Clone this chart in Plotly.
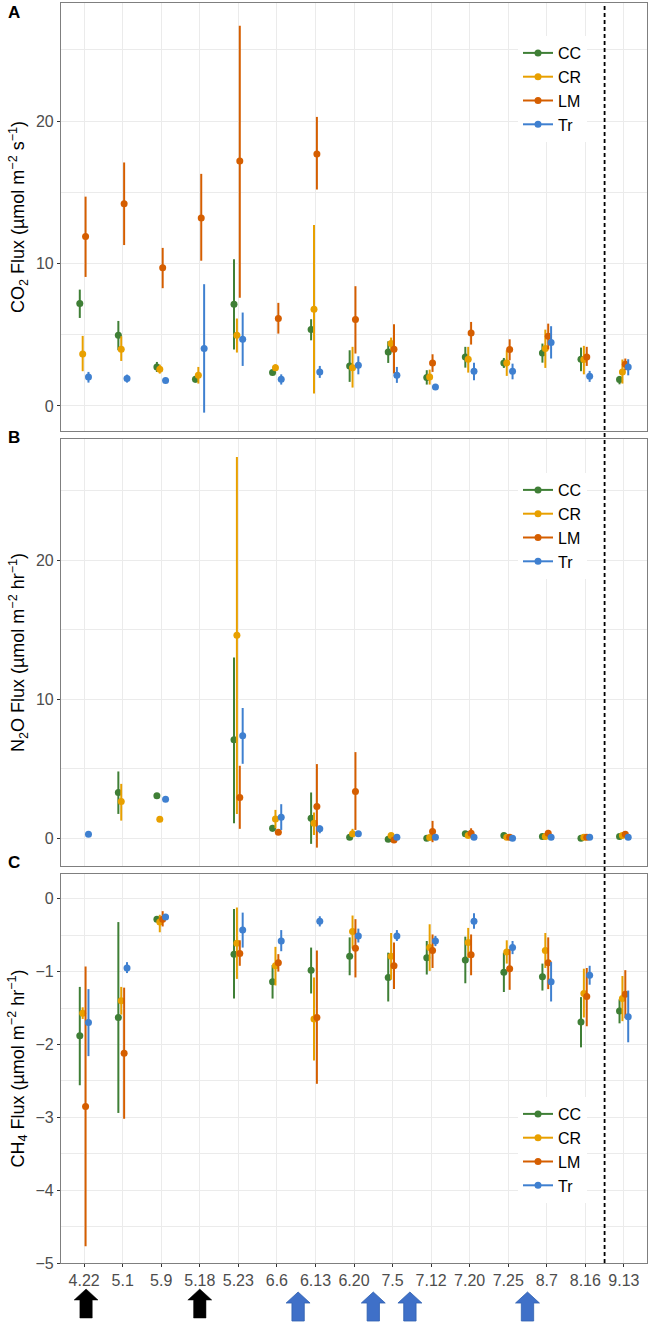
import plotly.graph_objects as go

# ---------------- data ----------------
dates = ["4.22", "5.1", "5.9", "5.18", "5.23", "6.6", "6.13", "6.20",
         "7.5", "7.12", "7.20", "7.25", "8.7", "8.16", "9.13"]
groups = ["CC", "CR", "LM", "Tr"]
N = None

# Panel A: CO2 flux (umol m-2 s-1)
co2_cc = [7.19, 4.96, 2.74, 1.87, 7.14, 2.34, 5.36, 2.81, 3.79, 1.99, 3.44, 3.02, 3.72, 3.28, 1.85]
co2_cc_lo = [6.18, 3.91, 2.39, 1.64, 3.96, 2.22, 4.61, 1.69, 3.02, 1.50, 2.69, 2.67, 3.04, 2.44, 1.52]
co2_cc_hi = [8.17, 5.97, 3.09, 2.10, 10.3, 2.46, 6.09, 3.91, 4.54, 2.51, 4.15, 3.37, 4.38, 4.10, 2.11]
co2_cr = [3.65, 3.98, 2.58, 2.15, 4.96, 2.69, 6.79, 2.69, 4.38, 2.04, 3.28, 3.02, 4.03, 3.26, 2.39]
co2_cr_lo = [2.44, 3.16, 2.27, 1.57, 3.75, 2.46, 0.87, 1.29, 3.91, 1.50, 2.34, 2.11, 2.67, 2.22, 1.57]
co2_cr_hi = [4.92, 4.89, 2.90, 2.74, 6.14, 2.93, 12.7, 4.15, 4.80, 2.55, 4.15, 3.91, 5.36, 4.22, 3.26]
co2_lm = [11.9, 14.2, 9.70, 13.2, 17.2, 6.14, 17.7, 6.07, 3.98, 3.02, 5.13, 3.96, 4.89, 3.44, 2.93]
co2_lm_lo = [9.06, 11.3, 8.27, 10.2, 7.59, 5.08, 15.2, 3.68, 2.27, 2.39, 4.31, 3.21, 3.98, 2.81, 2.51]
co2_lm_hi = [14.7, 17.1, 11.1, 16.3, 26.7, 7.24, 20.3, 8.41, 5.74, 3.63, 5.90, 4.68, 5.78, 4.15, 3.33]
co2_tr = [2.04, 1.92, 1.78, 4.03, 4.68, 1.87, 2.39, 2.86, 2.15, 1.33, 2.44, 2.44, 4.45, 2.08, 2.74]
co2_tr_lo = [1.64, 1.64, 1.70, -0.47, 2.81, 1.50, 1.97, 2.22, 1.62, 1.25, 1.80, 1.87, 3.33, 1.69, 2.15]
co2_tr_hi = [2.39, 2.20, 1.86, 8.55, 6.56, 2.22, 2.81, 3.49, 2.74, 1.41, 3.04, 2.97, 5.60, 2.46, 3.28]

# Panel B: N2O flux (umol m-2 hr-1)
n2o_cc = [N, 3.31, 3.07, N, 7.10, 0.74, 1.46, 0.10, -0.05, 0.02, 0.34, 0.22, 0.14, 0.02, 0.14]
n2o_cc_lo = [N, 1.77, N, N, 1.10, 0.50, -0.38, N, N, N, N, N, N, N, N]
n2o_cc_hi = [N, 4.82, N, N, 13.0, 0.98, 3.31, N, N, N, N, N, N, N, N]
n2o_cr = [N, 2.66, 1.39, N, 14.6, 1.41, 1.10, 0.34, 0.22, 0.07, 0.22, 0.10, 0.14, 0.10, 0.22]
n2o_cr_lo = [N, 1.29, N, N, 1.77, 0.74, 0.26, 0.10, N, N, N, N, N, N, N]
n2o_cr_hi = [N, 3.93, N, N, 27.4, 2.06, 1.87, 0.70, N, N, N, N, N, N, N]
n2o_lm = [N, N, N, N, 2.95, 0.46, 2.30, 3.38, -0.10, 0.50, 0.38, 0.10, 0.38, 0.10, 0.31]
n2o_lm_lo = [N, N, N, N, 0.70, N, -0.65, 0.62, N, -0.26, 0.10, N, 0.14, N, N]
n2o_lm_hi = [N, N, N, N, 5.23, N, 5.35, 6.21, N, 1.27, 0.74, N, 0.62, N, N]
n2o_tr = [0.31, N, 2.83, N, 7.39, 1.53, 0.70, 0.34, 0.10, 0.10, 0.10, 0.02, 0.10, 0.10, 0.10]
n2o_tr_lo = [N, N, N, N, 5.37, 0.62, 0.38, N, N, N, N, N, N, N, N]
n2o_tr_hi = [N, N, N, N, 9.38, 2.47, 0.94, N, N, N, N, N, N, N, N]

# Panel C: CH4 flux (umol m-2 hr-1)
ch4_cc = [-1.88, -1.63, -0.28, N, -0.76, -1.14, -0.98, -0.79, -1.08, -0.81, -0.84, -1.01, -1.07, -1.69, -1.54]
ch4_cc_lo = [-2.56, -2.94, N, N, -1.37, -1.37, -1.30, -1.05, -1.41, -1.04, -1.16, -1.28, -1.26, -2.04, -1.71]
ch4_cc_hi = [-1.21, -0.32, N, N, -0.14, -0.91, -0.67, -0.53, -0.74, -0.58, -0.52, -0.74, -0.89, -1.35, -1.38]
ch4_cr = [-1.57, -1.40, -0.32, N, -0.61, -0.92, -1.65, -0.45, -0.79, -0.67, -0.60, -0.73, -0.71, -1.30, -1.37]
ch4_cr_lo = [-1.65, -1.59, -0.46, N, -1.10, -1.19, -2.22, -0.68, -1.11, -0.99, -0.81, -0.89, -0.95, -1.63, -1.68]
ch4_cr_hi = [-1.49, -1.21, -0.22, N, -0.12, -0.66, -1.08, -0.23, -0.47, -0.35, -0.40, -0.57, -0.47, -0.96, -1.06]
ch4_lm = [-2.85, -2.12, -0.28, N, -0.75, -0.88, -1.63, -0.68, -0.92, -0.71, -0.77, -0.96, -0.88, -1.34, -1.31]
ch4_lm_lo = [-4.77, -3.02, -0.38, N, -0.92, -1.00, -2.54, -1.08, -1.24, -0.95, -1.05, -1.25, -1.24, -1.75, -1.64]
ch4_lm_hi = [-0.93, -1.22, -0.17, N, -0.57, -0.76, -0.71, -0.28, -0.60, -0.49, -0.49, -0.69, -0.53, -0.95, -0.98]
ch4_tr = [-1.70, -0.95, -0.25, N, -0.43, -0.58, -0.31, -0.51, -0.51, -0.58, -0.31, -0.67, -1.14, -1.05, -1.62]
ch4_tr_lo = [-2.16, -1.02, -0.28, N, -0.67, -0.72, -0.38, -0.60, -0.58, -0.65, -0.41, -0.76, -1.41, -1.18, -1.97]
ch4_tr_hi = [-1.24, -0.87, -0.21, N, -0.19, -0.43, -0.24, -0.41, -0.43, -0.51, -0.20, -0.58, -0.87, -0.92, -1.26]

# event arrows (position along the date axis, in category units)
black_events = [0.05, 3.0]
blue_events = [5.55, 7.5, 8.45, 11.5]
season_break = 13.5

# ---------------- styling ----------------
colors = {"CC": "#3F7F36", "CR": "#E8A000", "LM": "#D55E00", "Tr": "#3F80D0"}
dodge = {"CC": -0.1125, "CR": -0.0375, "LM": 0.0375, "Tr": 0.1125}
FONT = "Liberation Sans, Arial, Helvetica, sans-serif"
GRID = "#EBEBEB"
BORDER = "#7F7F7F"

panels = [
    ("x", "y", "legend", {"CC": (co2_cc, co2_cc_lo, co2_cc_hi), "CR": (co2_cr, co2_cr_lo, co2_cr_hi),
                          "LM": (co2_lm, co2_lm_lo, co2_lm_hi), "Tr": (co2_tr, co2_tr_lo, co2_tr_hi)}),
    ("x2", "y2", "legend2", {"CC": (n2o_cc, n2o_cc_lo, n2o_cc_hi), "CR": (n2o_cr, n2o_cr_lo, n2o_cr_hi),
                             "LM": (n2o_lm, n2o_lm_lo, n2o_lm_hi), "Tr": (n2o_tr, n2o_tr_lo, n2o_tr_hi)}),
    ("x3", "y3", "legend3", {"CC": (ch4_cc, ch4_cc_lo, ch4_cc_hi), "CR": (ch4_cr, ch4_cr_lo, ch4_cr_hi),
                             "LM": (ch4_lm, ch4_lm_lo, ch4_lm_hi), "Tr": (ch4_tr, ch4_tr_lo, ch4_tr_hi)}),
]

fig = go.Figure()
for xa, ya, lg, series in panels:
    for g in groups:
        mean, lo, hi = series[g]
        xs = [i + dodge[g] for i in range(len(dates))]
        up = [(h - m) if (h is not None and m is not None) else None for m, h in zip(mean, hi)]
        dn = [(m - l) if (l is not None and m is not None) else None for m, l in zip(mean, lo)]
        fig.add_trace(go.Scatter(
            x=xs, y=mean, xaxis=xa, yaxis=ya, mode="markers", showlegend=False,
            marker=dict(color=colors[g], size=7, line=dict(width=0)),
            error_y=dict(type="data", symmetric=False, array=up, arrayminus=dn,
                         color=colors[g], thickness=2, width=0),
            hoverinfo="skip"))
    for g in groups:
        fig.add_trace(go.Scatter(
            x=[None], y=[None], xaxis=xa, yaxis=ya, mode="lines+markers", name=g,
            legend=lg, line=dict(color=colors[g], width=2),
            marker=dict(color=colors[g], size=7)))

# layout geometry (pixels)
W, H = 649, 1339
ML, MR, MT, MB = 61, 2, 3, 76
ph = H - MT - MB


def yf(py):
    return (H - MB - py) / ph


def xf(px):
    return (px - ML) / (W - ML - MR)


TICKF = dict(family=FONT, size=16, color="#4D4D4D")
xcommon = dict(range=[-0.6, 14.6], tickvals=list(range(len(dates))), ticktext=dates,
               showgrid=True, gridcolor=GRID, gridwidth=1.2, zeroline=False,
               showline=True, mirror=True, linecolor=BORDER, linewidth=1.2,
               tickfont=TICKF)
ycommon = dict(showgrid=True, gridcolor=GRID, gridwidth=1.2, zeroline=False,
               showline=True, mirror=True, linecolor=BORDER, linewidth=1.2,
               ticks="outside", ticklen=3, tickcolor="#333333",
               tickfont=TICKF)

title_font = dict(family=FONT, size=18, color="black")

fig.update_layout(
    width=W, height=H, margin=dict(l=ML, r=MR, t=MT, b=MB),
    paper_bgcolor="white", plot_bgcolor="white",
    font=dict(family=FONT, size=16, color="black"),
    xaxis=dict(xcommon, domain=[0, 1], anchor="y", showticklabels=False, ticks=""),
    xaxis2=dict(xcommon, domain=[0, 1], anchor="y2", showticklabels=False, ticks="", matches="x"),
    xaxis3=dict(xcommon, domain=[0, 1], anchor="y3", ticks="outside", ticklen=3,
                tickcolor="#333333", matches="x"),
    yaxis=dict(ycommon, domain=[yf(431), yf(3)], anchor="x", range=[-1.76, 28.3],
               tickvals=[0, 10, 20], minor=dict(dtick=5, tick0=0, showgrid=True, gridcolor=GRID, gridwidth=0.6),
               title=dict(text="CO<sub>2</sub> Flux (µmol m<sup>−2</sup> s<sup>−1</sup>)", font=title_font, standoff=6)),
    yaxis2=dict(ycommon, domain=[yf(866), yf(439)], anchor="x2", range=[-1.97, 28.7],
                tickvals=[0, 10, 20], minor=dict(dtick=5, tick0=0, showgrid=True, gridcolor=GRID, gridwidth=0.6),
                title=dict(text="N<sub>2</sub>O Flux (µmol m<sup>−2</sup> hr<sup>−1</sup>)", font=title_font, standoff=6)),
    yaxis3=dict(ycommon, domain=[0, yf(874)], anchor="x3", range=[-5.0, 0.34],
                tickvals=[0, -1, -2, -3, -4, -5], minor=dict(dtick=0.5, tick0=0, showgrid=True, gridcolor=GRID, gridwidth=0.6),
                title=dict(text="CH<sub>4</sub> Flux (µmol m<sup>−2</sup> hr<sup>−1</sup>)", font=title_font, standoff=6)),
)

leg_common = dict(xanchor="left", yanchor="top", bgcolor="white", borderwidth=0,
                  font=dict(family=FONT, size=16, color="black"), tracegroupgap=0)
fig.update_layout(
    legend=dict(leg_common, x=xf(518), y=yf(36)),
    legend2=dict(leg_common, x=xf(518), y=yf(473)),
    legend3=dict(leg_common, x=xf(518), y=yf(1097)),
)

# dashed season-break line through all panels
fig.add_shape(type="line", xref="x3", yref="paper", x0=season_break, x1=season_break,
              y0=0, y1=1, line=dict(color="black", width=1.8, dash="4px,3px"), layer="above")

# panel letters
for letter, py in [("A", 13), ("B", 437), ("C", 862)]:
    fig.add_annotation(text="<b>%s</b>" % letter, xref="paper", yref="paper",
                       x=xf(14), y=yf(py), xanchor="center", yanchor="middle",
                       showarrow=False, font=dict(family=FONT, size=17, color="black"))

# event arrows below the date axis
hw, sw = 0.31, 0.16


def arrow_path(p, top_px, bot_px, head_px):
    yt, yh, yb = yf(top_px), yf(top_px + head_px), yf(bot_px)
    return ("M {p},{yt} L {a},{yh} L {b},{yh} L {b},{yb} L {c},{yb} L {c},{yh} L {d},{yh} Z"
            .format(p=p, yt=yt, yh=yh, yb=yb, a=p + hw, b=p + sw, c=p - sw, d=p - hw))


for p in black_events:
    fig.add_shape(type="path", xref="x3", yref="paper", path=arrow_path(p, 1289, 1318, 11),
                  fillcolor="black", line=dict(color="black", width=0.5), layer="above")
for p in blue_events:
    fig.add_shape(type="path", xref="x3", yref="paper", path=arrow_path(p, 1292, 1321, 11),
                  fillcolor="#3F70C8", line=dict(color="#2F5FB0", width=0.8), layer="above")

fig.write_html("out.html", config={"displayModeBar": False},
               post_script="document.body.style.margin='0';document.body.style.overflow='hidden';")
